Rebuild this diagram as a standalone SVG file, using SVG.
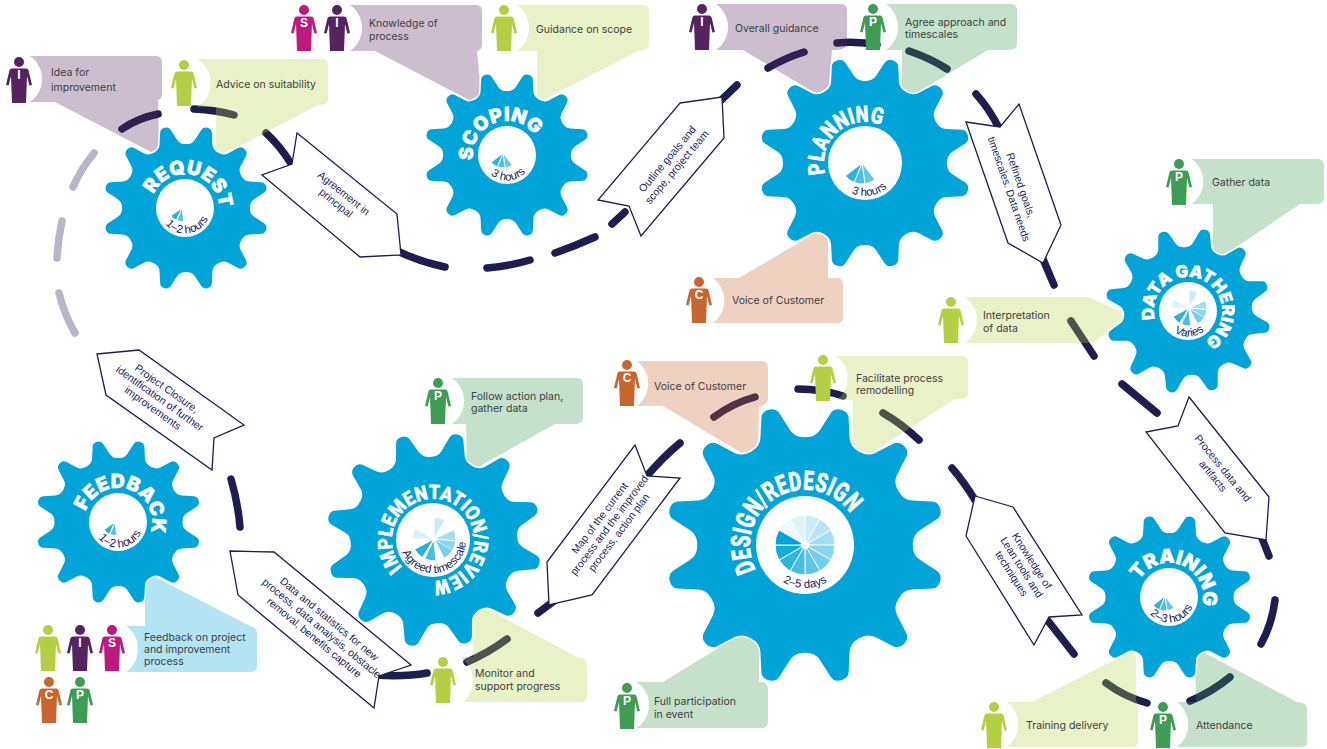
<svg xmlns="http://www.w3.org/2000/svg" width="1327" height="749" viewBox="0 0 1327 749">
<style>
text{font-family:"Inter","Liberation Sans",sans-serif}
.dash{fill:none;stroke:#1d1d4f;stroke-width:7.5;stroke-linecap:round}
.grey{stroke:#b6b6ca}
.arrow{fill:#fff;stroke:#1d1d4f;stroke-width:1.3;stroke-linejoin:miter}
.al{font-family:"Liberation Sans",sans-serif;font-size:10.6px;fill:#23235a;text-anchor:middle}
.cl{font-size:10.5px;fill:#3d3d42}
.lime{fill:#b5cf45}.purple{fill:#55235f}.mag{fill:#bd1a7f}.org{fill:#c8662f}.grn{fill:#3f9c54}.blu{fill:#00a4d9}
.co{fill-opacity:.3}
.ltr{font-family:"Liberation Sans",sans-serif;font-size:12px;font-weight:700;fill:#fff;text-anchor:middle}
.halo{fill:#fff;stroke:#fff;stroke-width:3}
.gear{fill:#00a4d9}
.nss{vector-effect:non-scaling-stroke}
.hole{fill:#fff}
.title{font-weight:900;fill:#fff;text-anchor:middle;stroke:#fff;stroke-width:.35}
.rb{font-family:"Roboto","Liberation Sans",sans-serif}
.dur{font-family:"Liberation Sans",sans-serif;fill:#23235a;text-anchor:middle;font-size:11.5px}
.wd{fill:#00a4d9;stroke:#fff;stroke-width:1}
</style>
<defs>
<path id="t" class="nss" d="M-20,-74.4Q-13,-76 -11,-82L-6.5,-96Q-5,-100 0,-100Q5,-100 6.5,-96L11,-82Q13,-76 20,-74.4Z"/>
<g id="cog">
<circle class="nss" r="77"/>
<use href="#t" transform="rotate(15)"/><use href="#t" transform="rotate(45)"/><use href="#t" transform="rotate(75)"/><use href="#t" transform="rotate(105)"/><use href="#t" transform="rotate(135)"/><use href="#t" transform="rotate(165)"/><use href="#t" transform="rotate(195)"/><use href="#t" transform="rotate(225)"/><use href="#t" transform="rotate(255)"/><use href="#t" transform="rotate(285)"/><use href="#t" transform="rotate(315)"/><use href="#t" transform="rotate(345)"/>
</g>
<g id="p">
<circle cy="5" r="5"/>
<path d="M-7,11.5H7Q9,11.5 9.6,13.5L13,28L10.4,28.6L8,19L7,46H-7L-8,19L-10.4,28.6L-13,28L-9.6,13.5Q-9,11.5 -7,11.5Z"/>
</g>
<path id="w" class="wd nss" d="M0,-4V-30A30,30 0 0 1 15,-25.98L2,-3.46Z"/>
<g id="pie12">
<use href="#w" transform="rotate(300)" opacity=".06"/><use href="#w" transform="rotate(330)" opacity=".12"/><use href="#w" transform="rotate(0)" opacity=".2"/><use href="#w" transform="rotate(30)" opacity=".28"/><use href="#w" transform="rotate(60)" opacity=".36"/><use href="#w" transform="rotate(90)" opacity=".45"/><use href="#w" transform="rotate(120)" opacity=".54"/><use href="#w" transform="rotate(150)" opacity=".63"/><use href="#w" transform="rotate(180)" opacity=".72"/><use href="#w" transform="rotate(210)" opacity=".82"/><use href="#w" transform="rotate(240)" opacity=".92"/><use href="#w" transform="rotate(270)" opacity="1"/>
</g>
<g id="pie3"><use href="#w" transform="rotate(142)" opacity=".6"/><use href="#w" transform="rotate(172)" opacity=".7"/><use href="#w" transform="rotate(202)" opacity=".82"/></g>
<g id="pie2"><use href="#w" transform="rotate(172)" opacity=".65"/><use href="#w" transform="rotate(205)" opacity=".85"/></g>
<g id="pie7"><use href="#w" transform="rotate(0)" opacity=".2"/><use href="#w" transform="rotate(65)" opacity=".36"/><use href="#w" transform="rotate(95)" opacity=".45"/><use href="#w" transform="rotate(122)" opacity=".52"/><use href="#w" transform="rotate(175)" opacity=".72"/><use href="#w" transform="rotate(212)" opacity=".85"/><use href="#w" transform="rotate(270)" opacity=".14"/></g>
<path id="o34" d="M0,34A34,34 0 1 1 0,-34A34,34 0 1 1 0,34"/>
<path id="o41" d="M0,41A41,41 0 1 1 0,-41A41,41 0 1 1 0,41"/>
<path id="o55" d="M0,55A55,55 0 1 1 0,-55A55,55 0 1 1 0,55"/>
<path id="i25" d="M0,-25.5A25.5,25.5 0 1 0 0,25.5A25.5,25.5 0 1 0 0,-25.5"/>
<path id="i33" d="M0,-33A33,33 0 1 0 0,33A33,33 0 1 0 0,-33"/>
<path id="i43" d="M0,-43A43,43 0 1 0 0,43A43,43 0 1 0 0,-43"/>
</defs>
<rect width="1327" height="749" fill="#fff"/>
<g id="connectors">
<path class="dash grey" d="M94,153Q81,169 73,187M62,221Q58,239 57,258M59,293Q64,314 75,333"/>
<path class="dash" d="M122,129Q138,118 158,114M194,109Q216,110 234,115M266,133Q280,146 290,162M395,250Q420,262 445,267M487,268Q510,266 530,260M555,253Q575,246 595,237M612,224L625,212M715,106L737,85M768,68Q785,58 804,52M837,43Q858,41 877,45M909,51Q930,58 947,69M976,94Q989,108 1000,130M1040,252L1054,285M1071,321L1094,356M1122,384L1157,413M1258,528L1269,556M1275,600Q1272,624 1261,644M1230,677Q1212,692 1190,701M1147,703Q1125,697 1106,683M1074,654L1045,617M975,500Q964,482 952,468M883,413Q902,424 919,440M798,389Q822,389 843,396M755,397Q733,403 714,417M680,443Q663,457 645,478M538,613L558,598M507,639Q488,653 467,662M427,673Q405,677 375,675M240,527Q238,503 231,479"/>
<polygon class="arrow" points="297,133 397,214 401,255 360,257 262,175 292,164"/>
<text class="al" transform="translate(340,198) rotate(39)"><tspan x="0" y="-2.5">Agreement in</tspan><tspan x="0" y="10">principal</tspan></text>
<polygon class="arrow" points="680,103 722,97 724,138 641,236 629,206 598,200"/>
<text class="al" transform="translate(672,163) rotate(-50)"><tspan x="0" y="-2.5">Outline goals and</tspan><tspan x="0" y="10">scope, project team</tspan></text>
<polygon class="arrow" points="966,122 1000,127 1019,104 1061,225 1043,263 1008,243"/>
<text class="al" transform="translate(1015,187) rotate(71)"><tspan x="0" y="-2.5">Refined goals,</tspan><tspan x="0" y="10">timescales. Data needs</tspan></text>
<polygon class="arrow" points="1189,397 1269,497 1266,540 1225,533 1146,432 1178,426"/>
<text class="al" transform="translate(1218,472) rotate(51)"><tspan x="0" y="-2.5">Process data and</tspan><tspan x="0" y="10">artifacts</tspan></text>
<polygon class="arrow" points="975,496 1013,507 1082,615 1049,617 1034,645 966,536"/>
<text class="al" transform="translate(1022,567) rotate(57.4)"><tspan x="0" y="-8">Knowledge of</tspan><tspan x="0" y="4">Lean tools and</tspan><tspan x="0" y="16">techniques</tspan></text>
<polygon class="arrow" points="635,445 647,476 680,478 592,595 549,605 547,562"/>
<text class="al" transform="translate(609,525) rotate(-53)"><tspan x="0" y="-8">Map of the current</tspan><tspan x="0" y="4">process and the improved</tspan><tspan x="0" y="16">process, action plan</tspan></text>
<polygon class="arrow" points="230,551 274,552 411,665 379,676 374,708 238,595"/>
<text class="al" transform="translate(322,628) rotate(39.5)"><tspan x="0" y="-8">Data and statistics for new</tspan><tspan x="0" y="4">process, data analysis, obstacle</tspan><tspan x="0" y="16">removal, benefits capture</tspan></text>
<polygon class="arrow" points="97,354 139,350 244,425 214,438 212,470 106,395"/>
<text class="al" transform="translate(160,398) rotate(35.5)"><tspan x="0" y="-8">Project Closure,</tspan><tspan x="0" y="4">identification of further</tspan><tspan x="0" y="16">improvements</tspan></text>
</g>
<g id="node-request">
<path class="co purple" d="M30,56H156Q162,56 162,62V94Q162,99 158,100L159,146Q159,151 153,153L55,102H30A28,28 0 0 0 30,56Z"/>
<path class="co lime" d="M197,59H322Q328,59 328,65V99Q328,105 318,105L223,155Q218,155 216,151V107H197A28,28 0 0 0 197,59Z"/>
<use href="#p" class="purple" x="19" y="57"/><text class="ltr" x="19" y="79">I</text>
<use href="#p" class="lime" x="184" y="60"/>
<text class="cl" x="51" y="76">Idea for</text><text class="cl" x="51" y="91">improvement</text>
<text class="cl" x="216" y="88">Advice on suitability</text>
<use href="#cog" class="halo" transform="translate(186,208) scale(.83)"/><use href="#cog" class="gear" transform="translate(186,208) scale(.83)"/>
<g transform="translate(185,208)"><circle class="hole" r="29"/>
<use href="#pie2" transform="translate(-3,0) scale(.45)"/>
<text class="title" font-size="19.5" transform="rotate(11.5)"><textPath href="#o34" startOffset="50%">REQUEST</textPath></text>
<text class="dur"><textPath href="#i25" startOffset="52%">1–2 hours</textPath></text></g>
</g>
<g id="node-scoping">
<path class="co purple" d="M350,5H476Q482,5 482,11V44Q482,50 477,51L481,93Q481,99 473,102L375,51H350A28,28 0 0 0 350,5Z"/>
<path class="co lime" d="M517,5H643Q649,5 649,11V44Q649,51 638,51L543,100Q539,100 537,96V51H517A28,28 0 0 0 517,5Z"/>
<use href="#p" class="mag" x="304" y="5"/><text class="ltr" x="304" y="27">S</text>
<use href="#p" class="purple" x="337" y="5"/><text class="ltr" x="337" y="27">I</text>
<use href="#p" class="lime" x="504" y="5"/>
<text class="cl" x="369" y="27">Knowledge of</text><text class="cl" x="369" y="40">process</text>
<text class="cl" x="536" y="33">Guidance on scope</text>
<use href="#cog" class="halo" transform="translate(507,155) scale(.83)"/><use href="#cog" class="gear" transform="translate(507,155) scale(.83)"/>
<g transform="translate(507,155)"><circle class="hole" r="29"/>
<use href="#pie3" transform="translate(-4,-2) scale(.5)"/>
<text class="title" font-size="19.5" transform="rotate(-22)"><textPath href="#o34" startOffset="50%">SCOPING</textPath></text>
<text class="dur"><textPath href="#i25" startOffset="51%">3 hours</textPath></text></g>
</g>
<g id="node-planning">
<path class="co purple" d="M716,4H841Q847,4 847,10V44Q847,50 832,50L829,88Q829,94 820,96L743,50H716A28,28 0 0 0 716,4Z"/>
<path class="co grn" d="M886,4H1011Q1017,4 1017,10V44Q1017,50 1008,50H988L910,97Q904,96 902,90V50H886A28,28 0 0 0 886,4Z"/>
<path class="co org" d="M713,278H739L817,232Q826,233 828,240V278H837Q843,278 843,284V317Q843,323 837,323H713A28,28 0 0 0 713,278Z"/>
<use href="#p" class="purple" x="702" y="4"/><text class="ltr" x="702" y="26">I</text>
<use href="#p" class="grn" x="873" y="4"/><text class="ltr" x="873" y="26">P</text>
<use href="#p" class="org" x="699" y="277"/><text class="ltr" x="699" y="299">C</text>
<text class="cl" x="735" y="32">Overall guidance</text>
<text class="cl" x="905" y="26">Agree approach and</text><text class="cl" x="905" y="38">timescales</text>
<text class="cl" x="732" y="304">Voice of Customer</text>
<use href="#cog" class="halo" transform="translate(865,163) scale(1.065)"/><use href="#cog" class="gear" transform="translate(865,163) scale(1.065)"/>
<g transform="translate(865,163)"><circle class="hole" r="37"/>
<use href="#pie3" transform="translate(-3,0) scale(.7)"/>
<text class="title rb" font-size="23" transform="rotate(-41)"><textPath href="#o41" startOffset="50%" textLength="92" lengthAdjust="spacingAndGlyphs">PLANNING</textPath></text>
<text class="dur" font-size="12"><textPath href="#i33" startOffset="52.4%">3 hours</textPath></text></g>
</g>
<g id="node-data-gathering">
<path class="co grn" d="M1192,159H1318Q1324,159 1324,165V198Q1324,204 1316,204H1300L1223,256Q1216,255 1213,250V204H1192A28,28 0 0 0 1192,159Z"/>
<path class="co lime" d="M965,297H1088L1125,313Q1126,318 1122,321L1093,343H965A28,28 0 0 0 965,297Z"/>
<use href="#p" class="grn" x="1179" y="159"/><text class="ltr" x="1179" y="181">P</text>
<use href="#p" class="lime" x="951" y="297"/>
<text class="cl" x="1212" y="186">Gather data</text>
<text class="cl" x="983" y="319">Interpretation</text><text class="cl" x="983" y="332">of data</text>
<use href="#cog" class="halo" transform="translate(1188,311) rotate(-3) scale(.83)"/><use href="#cog" class="gear" transform="translate(1188,311) rotate(-3) scale(.83)"/>
<g transform="translate(1188,311)"><circle class="hole" r="29"/>
<use href="#pie7" transform="translate(1,-3) scale(.6)"/>
<text class="title" font-size="17" transform="rotate(23)"><textPath href="#o34" startOffset="50%" textLength="151" lengthAdjust="spacingAndGlyphs">DATA GATHERING</textPath></text>
<text class="dur"><textPath href="#i25" startOffset="51%">Varies</textPath></text></g>
</g>
<g id="node-training">
<path class="co lime" d="M1007,702H1032L1130,652Q1136,653 1136,660V700Q1138,702 1138,708V741Q1138,747 1132,747H1007A28,28 0 0 0 1007,702Z"/>
<path class="co grn" d="M1177,702H1196L1195,660Q1197,654 1203,652L1297,702Q1307,702 1307,709V741Q1307,747 1301,747H1177A28,28 0 0 0 1177,702Z"/>
<use href="#p" class="lime" x="994" y="702"/>
<use href="#p" class="grn" x="1163" y="702"/><text class="ltr" x="1163" y="724">P</text>
<text class="cl" x="1026" y="729">Training delivery</text>
<text class="cl" x="1196" y="729">Attendance</text>
<use href="#cog" class="halo" transform="translate(1169.5,597) scale(.83)"/><use href="#cog" class="gear" transform="translate(1169.5,597) scale(.83)"/>
<g transform="translate(1169,597)"><circle class="hole" r="29"/>
<use href="#pie3" transform="translate(-4,-1) scale(.5)"/>
<text class="title" font-size="19.5" transform="rotate(22)"><textPath href="#o34" startOffset="50%">TRAINING</textPath></text>
<text class="dur"><textPath href="#i25" startOffset="52.5%">2–3 hours</textPath></text></g>
</g>
<g id="node-design">
<path class="co org" d="M637,361H762Q768,361 768,367V398Q768,404 759,407L758,447Q756,453 745,455L663,406H637A28,28 0 0 0 637,361Z"/>
<path class="co lime" d="M837,356H962Q968,356 968,362V392Q968,398 961,399H955L867,456Q858,455 853,447V400H837A28,28 0 0 0 837,356Z"/>
<path class="co grn" d="M637,682H663L743,633Q755,637 759,643V682H762Q768,683 768,689V722Q768,728 762,728H637A28,28 0 0 0 637,682Z"/>
<use href="#p" class="org" x="627" y="360"/><text class="ltr" x="627" y="382">C</text>
<use href="#p" class="lime" x="823" y="355"/>
<use href="#p" class="grn" x="627" y="683"/><text class="ltr" x="627" y="705">P</text>
<text class="cl" x="654" y="390">Voice of Customer</text>
<text class="cl" x="856" y="382">Facilitate process</text><text class="cl" x="856" y="394">remodelling</text>
<text class="cl" x="654" y="705">Full participation</text><text class="cl" x="654" y="718">in event</text>
<use href="#cog" class="halo" transform="translate(805,545) scale(1.4)"/><use href="#cog" class="gear" transform="translate(805,545) scale(1.4)"/>
<g transform="translate(805,545)"><circle class="hole" r="49"/>
<use href="#pie12"/>
<text class="title rb" font-size="27" transform="rotate(-31)"><textPath href="#o55" startOffset="50%" textLength="165" lengthAdjust="spacingAndGlyphs">DESIGN/REDESIGN</textPath></text>
<text class="dur" font-size="12.5"><textPath href="#i43" startOffset="50%">2–5 days</textPath></text></g>
</g>
<g id="node-implementation">
<path class="co grn" d="M452,378H577Q583,378 583,384V417Q583,423 577,424H555L473,470Q468,468 467,462L466,424H452A28,28 0 0 0 452,378Z"/>
<path class="co lime" d="M460,657H473L474,613Q478,606 482,606L577,657Q587,658 587,665V696Q587,702 581,702H463A28,28 0 0 0 460,657Z"/>
<use href="#p" class="grn" x="438" y="378"/><text class="ltr" x="438" y="400">P</text>
<use href="#p" class="lime" x="443" y="657"/>
<text class="cl" x="471" y="400">Follow action plan,</text><text class="cl" x="471" y="412">gather data</text>
<text class="cl" x="475" y="677">Monitor and</text><text class="cl" x="475" y="690">support progress</text>
<use href="#cog" class="halo" transform="translate(434,540) rotate(-2.5) scale(1.08)"/><use href="#cog" class="gear" transform="translate(434,540) rotate(-2.5) scale(1.08)"/>
<g transform="translate(433,540)"><circle class="hole" r="37"/>
<use href="#pie7" transform="translate(1,-1) scale(.73)"/>
<text class="title rb" font-size="20" transform="rotate(24)"><textPath href="#o41" startOffset="50%" textLength="223" lengthAdjust="spacingAndGlyphs">IMPLEMENTATION/REVIEW</textPath></text>
<text class="dur" font-size="11.5"><textPath href="#i33" startOffset="52.5%">Agreed timescale</textPath></text></g>
</g>
<g id="node-feedback">
<path class="co blu" d="M126,626H145V582Q148,577 153,576L250,626Q257,627 257,634V666Q257,672 251,672H126A28,28 0 0 0 126,626Z"/>
<use href="#p" class="lime" x="48" y="625"/>
<use href="#p" class="purple" x="80" y="625"/><text class="ltr" x="80" y="647">I</text>
<use href="#p" class="mag" x="112" y="625"/><text class="ltr" x="112" y="647">S</text>
<use href="#p" class="org" x="49" y="677"/><text class="ltr" x="49" y="699">C</text>
<use href="#p" class="grn" x="80" y="677"/><text class="ltr" x="80" y="699">P</text>
<text class="cl" x="144" y="641">Feedback on project</text><text class="cl" x="144" y="653">and improvement</text><text class="cl" x="144" y="665">process</text>
<use href="#cog" class="halo" transform="translate(118.5,522) scale(.83)"/><use href="#cog" class="gear" transform="translate(118.5,522) scale(.83)"/>
<g transform="translate(118,522)"><circle class="hole" r="29"/>
<use href="#pie2" transform="translate(-3,0) scale(.45)"/>
<text class="title" font-size="19.5" transform="rotate(18)"><textPath href="#o34" startOffset="50%">FEEDBACK</textPath></text>
<text class="dur"><textPath href="#i25" startOffset="52%">1–2 hours</textPath></text></g>
</g>
</svg>
